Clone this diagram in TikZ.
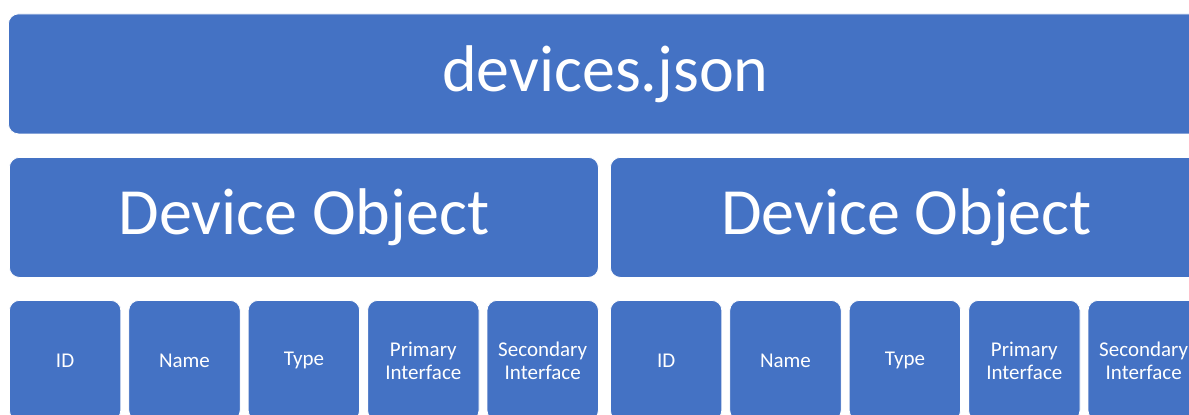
\documentclass[tikz,border=0pt]{standalone}
\usepackage{fontspec}
\setmainfont{Carlito}
\usepackage{tikz}

\definecolor{boxblue}{HTML}{4472C4}
\tikzset{
  blk/.style={fill=boxblue, draw=white, line width=0.8pt, rounded corners=10pt,
    text=white, anchor=north west, inner sep=0pt, align=center},
  bigblk/.style={blk, minimum height=120pt, font=\fontsize{66}{79}\selectfont},
  fieldblk/.style={blk, minimum width=111.4pt, minimum height=120pt,
    font=\fontsize{21}{23}\selectfont},
}

\begin{document}
\begin{tikzpicture}[x=1pt, y=-1pt]
\clip (0,0) rectangle (1189,415);
%
\node[bigblk, minimum width=1194pt] (devices) at (8,13.5) {devices.json};
%
\node[bigblk, minimum width=589pt] (obj1) at (9,157) {Device Object};
\node[bigblk, minimum width=592pt] (obj2) at (610,157) {Device Object};
%
\node[fieldblk] (id1) at (9,300) {ID};
\node[fieldblk] (name1) at (128.4,300) {Name};
\node[fieldblk] (type1) at (247.8,300) {Type};
\node[fieldblk] (prim1) at (367.2,300) {Primary\\Interface};
\node[fieldblk] (sec1) at (486.6,300) {Secondary\\Interface};
%
\node[fieldblk] (id2) at (610,300) {ID};
\node[fieldblk] (name2) at (729.4,300) {Name};
\node[fieldblk] (type2) at (848.8,300) {Type};
\node[fieldblk] (prim2) at (968.2,300) {Primary\\Interface};
\node[fieldblk] (sec2) at (1087.6,300) {Secondary\\Interface};
\end{tikzpicture}
\end{document}
